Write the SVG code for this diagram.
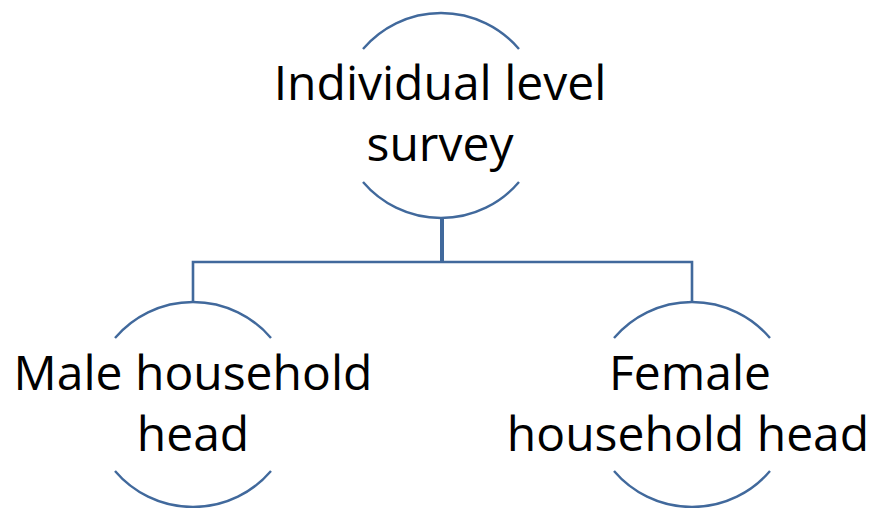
<svg xmlns="http://www.w3.org/2000/svg" width="873" height="508" viewBox="0 0 873 508">
<style>
.arc{fill:none;stroke:#41699C;stroke-width:2.4}
.conn{fill:none;stroke:#41699C;stroke-width:2.6}
.lbl{font-family:"Open Sans","Liberation Sans",sans-serif;font-size:48px;fill:#000;text-anchor:middle}
</style>
<rect width="873" height="508" fill="#fff"/>
<g id="connectors">
<line class="conn" x1="442" y1="218" x2="442" y2="262" style="stroke-width:4"/>
<polyline class="conn" points="193,302 193,262 692,262 692,302"/>
</g>
<g id="node-top">
<path class="arc" d="M363,49 A102.5,102.5 0 0 1 519,49"/>
<path class="arc" d="M363,182 A102.5,102.5 0 0 0 519,182"/>
<text class="lbl" x="440" y="100">Individual level</text>
<text class="lbl" x="440" y="161">survey</text>
</g>
<g id="node-male">
<path class="arc" d="M115,338 A102.5,102.5 0 0 1 271,338"/>
<path class="arc" d="M115,471 A102.5,102.5 0 0 0 271,471"/>
<text class="lbl" x="193" y="390">Male household</text>
<text class="lbl" x="193" y="451">head</text>
</g>
<g id="node-female">
<path class="arc" d="M614,338 A102.5,102.5 0 0 1 770,338"/>
<path class="arc" d="M614,471 A102.5,102.5 0 0 0 770,471"/>
<text class="lbl" x="690" y="390">Female</text>
<text class="lbl" x="688" y="451">household head</text>
</g>
</svg>
